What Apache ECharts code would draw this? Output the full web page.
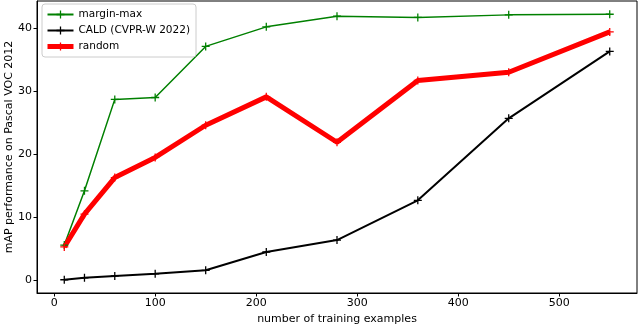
<!DOCTYPE html>
<html>
<head>
<meta charset="utf-8">
<script src="https://cdn.jsdelivr.net/npm/echarts@6/dist/echarts.min.js"></script>
<style>
  html, body { margin: 0; padding: 0; background: #fff; }
  #chart { width: 640px; height: 328px; }
</style>
</head>
<body>
<div id="chart"></div>
<script>
  // training set sizes
  var examples = [10, 30, 60, 100, 150, 210, 280, 360, 450, 550];
  // mAP values
  var marginMax = [5.6, 14.2, 28.7, 29.0, 37.1, 40.2, 41.9, 41.7, 42.1, 42.2];
  var cald = [0.1, 0.4, 0.7, 1.05, 1.6, 4.5, 6.4, 12.7, 25.7, 36.3];
  var randomSel = [5.3, 10.5, 16.3, 19.5, 24.6, 29.1, 21.9, 31.7, 33.0, 39.4];
  var xTicks = [0, 100, 200, 300, 400, 500];
  var yTicks = [0, 10, 20, 30, 40];

  var plus = 'path://M4.2,0H5.8V4.2H10V5.8H5.8V10H4.2V5.8H0V4.2H4.2Z';
  var font = 'DejaVu Sans';

  function pairs(ys) {
    return examples.map(function (x, i) { return [x, ys[i]]; });
  }

  function serie(name, ys, color, width) {
    return {
      name: name,
      type: 'line',
      data: pairs(ys),
      symbol: plus,
      symbolSize: 8,
      showSymbol: true,
      lineStyle: { color: color, width: width },
      itemStyle: { color: color },
      emphasis: { disabled: true },
      animation: false
    };
  }

  var myChart = echarts.init(document.getElementById('chart'));
  var option = {
    backgroundColor: '#fff',
    textStyle: { fontFamily: font },
    grid: {
      left: 37, right: 3, top: 1, bottom: 35,
      containLabel: false,
      outerBoundsMode: 'none',
      show: true, borderColor: '#000', borderWidth: 1
    },
    legend: {
      orient: 'vertical',
      left: 42, top: 4,
      padding: [5, 6, 5, 3],
      itemGap: 5,
      itemWidth: 26,
      itemHeight: 10,
      backgroundColor: 'rgba(255,255,255,0.8)',
      borderColor: '#ccc',
      borderWidth: 1,
      borderRadius: 3,
      textStyle: { fontFamily: font, fontSize: 10.5, color: '#000' },
      data: [
        { name: 'margin-max' },
        { name: 'CALD (CVPR-W 2022)' },
        { name: 'random', lineStyle: { width: 5 } }
      ]
    },
    xAxis: {
      type: 'value',
      min: -17, max: 577,
      name: 'number of training examples',
      nameLocation: 'middle',
      nameGap: 21,
      nameMoveOverlap: false,
      nameTextStyle: { fontFamily: font, fontSize: 11, color: '#000' },
      axisLine: { show: true, onZero: false, lineStyle: { color: '#000', width: 1 } },
      axisTick: { show: true, length: 3.5, customValues: xTicks, lineStyle: { color: '#000' } },
      axisLabel: { customValues: xTicks, fontFamily: font, fontSize: 11, color: '#000', margin: 5 },
      splitLine: { show: false }
    },
    yAxis: {
      type: 'value',
      min: -2, max: 44.3,
      name: 'mAP performance on Pascal VOC 2012',
      nameLocation: 'middle',
      nameGap: 22,
      nameMoveOverlap: false,
      nameTextStyle: { fontFamily: font, fontSize: 11, color: '#000' },
      axisLine: { show: true, onZero: false, lineStyle: { color: '#000', width: 1 } },
      axisTick: { show: true, length: 3.5, customValues: yTicks, lineStyle: { color: '#000' } },
      axisLabel: { customValues: yTicks, fontFamily: font, fontSize: 11, color: '#000', margin: 5 },
      splitLine: { show: false }
    },
    series: [
      serie('margin-max', marginMax, '#008000', 1.5),
      serie('CALD (CVPR-W 2022)', cald, '#000000', 2),
      serie('random', randomSel, '#ff0000', 5)
    ]
  };
  myChart.setOption(option);
</script>
</body>
</html>
